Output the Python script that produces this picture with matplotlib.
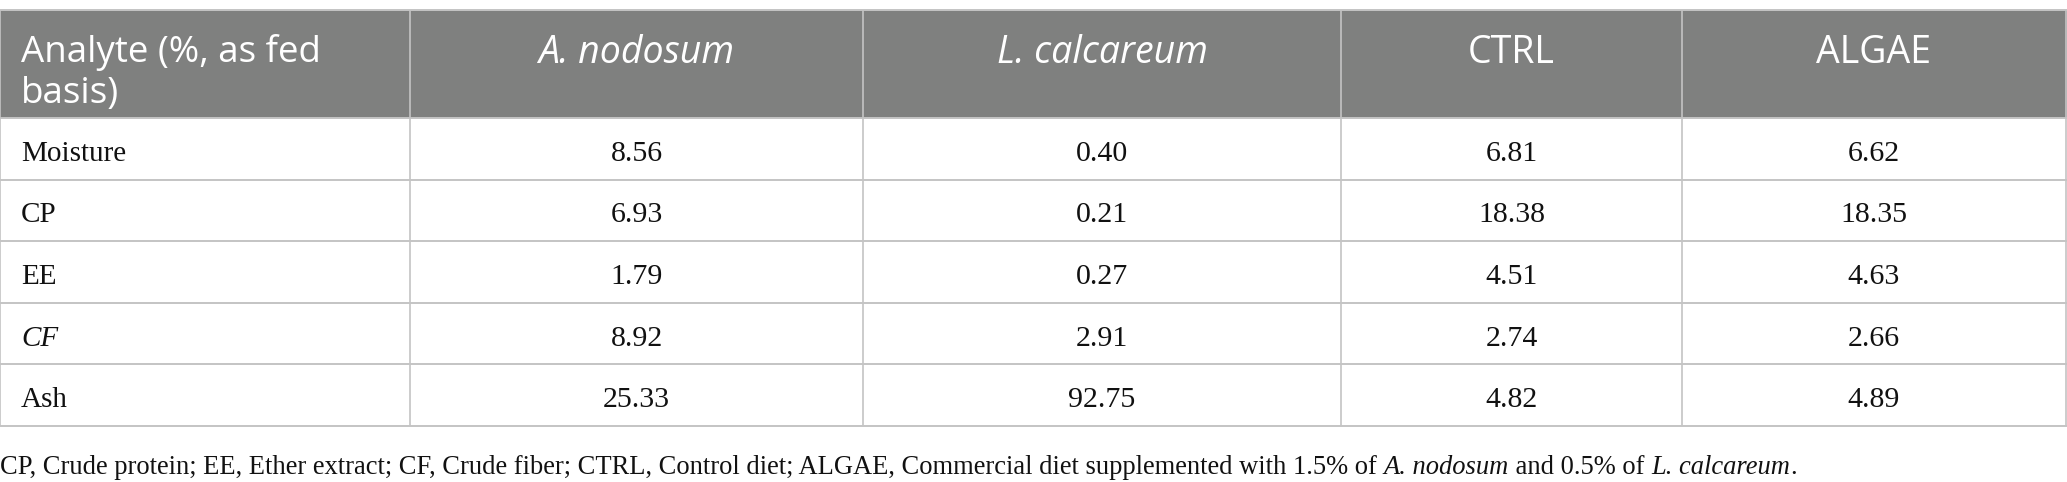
import matplotlib
matplotlib.use('Agg')
import matplotlib.pyplot as plt
from matplotlib.patches import Rectangle

# table content
col_labels = ['Analyte (%, as fed\nbasis)', 'A. nodosum', 'L. calcareum', 'CTRL', 'ALGAE']
col_italic = [False, True, True, False, False]
row_labels = ['Moisture', 'CP', 'EE', 'CF', 'Ash']
row_italic = [False, False, False, True, False]
a_nodosum = ['8.56', '6.93', '1.79', '8.92', '25.33']
l_calcareum = ['0.40', '0.21', '0.27', '2.91', '92.75']
ctrl = ['6.81', '18.38', '4.51', '2.74', '4.82']
algae = ['6.62', '18.35', '4.63', '2.66', '4.89']
footnote = [('CP, Crude protein; EE, Ether extract; CF, Crude fiber; CTRL, Control diet; ALGAE, Commercial diet supplemented with 1.5% of ', False),
            ('A. nodosum', True),
            (' and 0.5% of ', False),
            ('L. calcareum', True),
            ('.', False)]

W, H = 2067, 482
fig = plt.figure(figsize=(W/100, H/100), dpi=100)
ax = fig.add_axes([0, 0, 1, 1])
ax.set_xlim(0, W)
ax.set_ylim(H, 0)
ax.axis('off')

col_x = [0, 410, 863, 1341, 1682, 2066]
row_y = [10, 118, 180, 241, 303, 364, 426]
line_c = '#c4c4c4'
head_c = '#7f807f'
serif = 'Liberation Serif'
sans = 'Open Sans'

# header background
ax.add_patch(Rectangle((0, row_y[0]), W, row_y[1]-row_y[0], color=head_c, lw=0))

# grid lines
for y in row_y:
    ax.plot([0, W], [y, y], color=line_c, lw=1.4, solid_capstyle='butt')
for x in col_x:
    ax.plot([x, x], [row_y[0], row_y[-1]], color=line_c, lw=1.2, solid_capstyle='butt')

# header text
for j, lab in enumerate(col_labels):
    style = 'italic' if col_italic[j] else 'normal'
    if j == 0:
        ax.text(21, 34, lab, ha='left', va='top', color='white', fontsize=26.5,
                family=sans, style=style, linespacing=1.2)
    else:
        ax.text((col_x[j]+col_x[j+1])/2, 34, lab, ha='center', va='top', color='white',
                fontsize=27, family=sans, style=style)

# body
cols = [a_nodosum, l_calcareum, ctrl, algae]
for i, lab in enumerate(row_labels):
    yc = (row_y[i+1]+row_y[i+2])/2 + 5
    ax.text(21, yc, lab, ha='left', va='center', fontsize=21, family=serif,
            style='italic' if row_italic[i] else 'normal', color='#111111')
    for j, vals in enumerate(cols):
        ax.text((col_x[j+1]+col_x[j+2])/2, yc, vals[i], ha='center', va='center',
                fontsize=21.5, family=serif, color='#111111')

# footnote with italic species names
fig.canvas.draw()
renderer = fig.canvas.get_renderer()
x = 0
for s, it in footnote:
    t = ax.text(x, 467, s, ha='left', va='center', fontsize=19.1, family=serif,
                style='italic' if it else 'normal', color='#111111')
    bb = t.get_window_extent(renderer=renderer)
    x += bb.width

fig.savefig('out.png', dpi=100)
